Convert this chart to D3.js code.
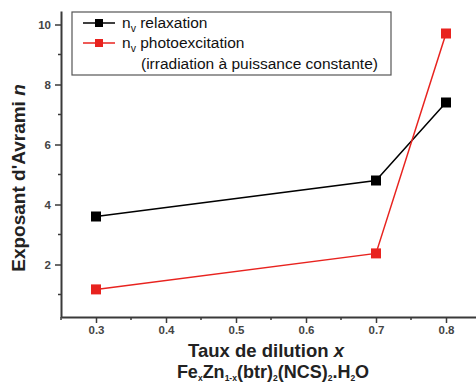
<!DOCTYPE html>
<html>
<head>
<meta charset="utf-8">
<script src="https://cdn.jsdelivr.net/npm/d3@7"></script>
<style>
  body { margin: 0; background: #fff; }
  text { font-family: "Liberation Sans", Arial, sans-serif; }
</style>
</head>
<body>
<svg width="476" height="385"></svg>
<script>
// data
const dilution = [0.3, 0.7, 0.8];
const relaxation = [3.6, 4.8, 7.4];
const photoexcitation = [1.17, 2.37, 9.7];
const xTicks = [0.3, 0.4, 0.5, 0.6, 0.7, 0.8];
const yTicks = [2, 4, 6, 8, 10];

const svg = d3.select("svg");
const margin = { left: 61, top: 11, bottom: 317 };

const x = d3.scaleLinear().domain([0.25, 0.85]).range([margin.left, margin.left + 420]);
const y = d3.scaleLinear().domain([0.25, 10.45]).range([margin.bottom, margin.top]);

const axisColor = "#3a3a3a";

// minor ticks
const xMinor = d3.range(0.25, 0.86, 0.1).map(d => +d.toFixed(2));
const yMinor = [1, 3, 5, 7, 9];

const bottomAxis = d3.axisBottom(x).tickValues(xTicks).tickSizeInner(6).tickSizeOuter(0)
  .tickPadding(3)
  .tickFormat(d3.format(".1f"));
const gx = svg.append("g")
  .attr("class", "bottom axis")
  .attr("transform", `translate(0,${margin.bottom})`)
  .call(bottomAxis);
gx.selectAll(".minor").data(xMinor).enter().append("line")
  .attr("class", "minor")
  .attr("x1", d => x(d)).attr("x2", d => x(d))
  .attr("y1", 0).attr("y2", 3);

const leftAxis = d3.axisLeft(y).tickValues(yTicks).tickSizeInner(6).tickSizeOuter(0)
  .tickPadding(4);
const gy = svg.append("g")
  .attr("class", "left axis")
  .attr("transform", `translate(${margin.left},0)`)
  .call(leftAxis);
gy.selectAll(".minor").data(yMinor).enter().append("line")
  .attr("class", "minor")
  .attr("y1", d => y(d)).attr("y2", d => y(d))
  .attr("x1", 0).attr("x2", -3);

svg.selectAll(".axis path").attr("stroke", axisColor).attr("stroke-width", 2);
svg.selectAll(".axis line").attr("stroke", axisColor).attr("stroke-width", 1.5);
svg.selectAll(".axis text")
  .attr("font-size", "11.5px")
  .attr("font-weight", "bold")
  .attr("fill", "#444");

// series
const series = [
  { values: relaxation, color: "#000000" },
  { values: photoexcitation, color: "#e8231f" }
];
const line = d3.line().x(d => x(d[0])).y(d => y(d[1]));

series.forEach(s => {
  const pts = dilution.map((d, i) => [d, s.values[i]]);
  svg.append("path")
    .datum(pts)
    .attr("fill", "none")
    .attr("stroke", s.color)
    .attr("stroke-width", 1.5)
    .attr("d", line);
  svg.selectAll(null).data(pts).enter().append("rect")
    .attr("x", d => x(d[0]) - 5)
    .attr("y", d => y(d[1]) - 5)
    .attr("width", 10).attr("height", 10)
    .attr("fill", s.color);
});

// legend
const legend = svg.append("g").attr("transform", "translate(72,12)");
legend.append("rect")
  .attr("width", 319).attr("height", 63)
  .attr("fill", "#fff")
  .attr("stroke", "#555").attr("stroke-width", 1.2);

const legendItems = [
  { label: "relaxation", color: "#000000", y: 11 },
  { label: "photoexcitation", color: "#e8231f", y: 31 }
];
legendItems.forEach(it => {
  legend.append("line")
    .attr("x1", 11).attr("x2", 43)
    .attr("y1", it.y).attr("y2", it.y)
    .attr("stroke", it.color).attr("stroke-width", 1.5);
  legend.append("rect")
    .attr("x", 23).attr("y", it.y - 4)
    .attr("width", 8).attr("height", 8)
    .attr("fill", it.color);
  const t = legend.append("text")
    .attr("x", 50).attr("y", it.y + 5)
    .attr("font-size", "15.5px")
    .attr("fill", "#111");
  t.append("tspan").text("n");
  t.append("tspan").attr("font-size", "10.5px").attr("dy", 4).text("v");
  t.append("tspan").attr("dy", -4).text(" " + it.label);
});
legend.append("text")
  .attr("x", 69).attr("y", 57)
  .attr("font-size", "15.5px")
  .attr("fill", "#111")
  .text("(irradiation à puissance constante)");

// y axis-label
const yl = svg.append("text")
  .attr("transform", "translate(25,178) rotate(-90)")
  .attr("text-anchor", "middle")
  .attr("font-size", "19px")
  .attr("font-weight", "bold")
  .attr("fill", "#222");
yl.append("tspan").text("Exposant d'Avrami ");
yl.append("tspan").attr("font-style", "italic").text("n");

// x axis-label
const xl = svg.append("text")
  .attr("x", 266).attr("y", 357)
  .attr("text-anchor", "middle")
  .attr("font-size", "18.5px")
  .attr("font-weight", "bold")
  .attr("fill", "#222");
xl.append("tspan").text("Taux de dilution ");
xl.append("tspan").attr("font-style", "italic").text("x");

// formula
const parts = [
  ["Fe", 0], ["x", 1], ["Zn", 0], ["1-x", 1], ["(btr)", 0], ["2", 1],
  ["(NCS)", 0], ["2", 1], [".H", 0], ["2", 1], ["O", 0]
];
const fm = svg.append("text")
  .attr("x", 273).attr("y", 378)
  .attr("text-anchor", "middle")
  .attr("font-size", "18px")
  .attr("font-weight", "bold")
  .attr("fill", "#222");
let prevSub = 0;
parts.forEach(([txt, sub]) => {
  const dy = (sub ? 3 : 0) - (prevSub ? 3 : 0);
  fm.append("tspan")
    .attr("dy", dy)
    .attr("font-size", sub ? "8.5px" : "18px")
    .text(txt);
  prevSub = sub;
});
</script>
</body>
</html>
